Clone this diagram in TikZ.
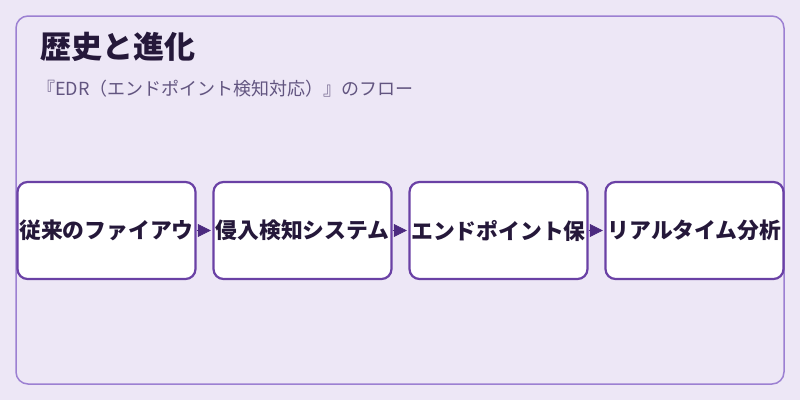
\documentclass[tikz,border=0pt]{standalone}
\usepackage{fontspec}
\setmainfont{Noto Sans CJK JP}
\usepackage{xcolor}
\usetikzlibrary{positioning,arrows.meta}

\definecolor{bgpurple}{HTML}{EDE7F6}
\definecolor{framepurple}{HTML}{9C80D2}
\definecolor{boxpurple}{HTML}{6A41A5}
\definecolor{arrowpurple}{HTML}{4C2A80}
\definecolor{titleink}{HTML}{25183A}
\definecolor{subink}{HTML}{625580}

\tikzset{
    stage/.style={draw=boxpurple, line width=2.2pt, fill=white, rounded corners=10pt,
        minimum width=178pt, minimum height=97pt, inner sep=0pt,
        font=\bfseries\fontsize{21.8}{21.8}\selectfont, text=titleink},
    flow/.style={-{Triangle[length=13pt,width=13pt]}, draw=arrowpurple, fill=arrowpurple,
        line width=0.6pt, shorten >=1.6pt}
}

\begin{document}
\begin{tikzpicture}[x=1pt, y=-1pt]
    \fill[bgpurple] (0,0) rectangle (800,400);
    \useasboundingbox (0,0) rectangle (800,400);
    \draw[framepurple, line width=1.5pt, rounded corners=12pt] (16,16) rectangle (784,384);

    \node[anchor=base west, inner sep=0pt, font=\bfseries\fontsize{31}{31}\selectfont, text=titleink] (title) at (40,58) {歴史と進化};
    \node[anchor=base west, inner sep=0pt, font=\fontsize{18}{18}\selectfont, text=subink] (subtitle) at (37,95) {『EDR（エンドポイント検知対応）』のフロー};

    % four stages, left to right
    \node[stage] (s1) at (106.5,230.5) {従来のファイアウ};
    \node[stage, right=15.8pt of s1] (s2) {侵入検知システム};
    \node[stage, right=15.8pt of s2] (s3) {エンドポイント保};
    \node[stage, right=15.8pt of s3] (s4) {リアルタイム分析};

    \draw[flow] (s1) -- (s2);
    \draw[flow] (s2) -- (s3);
    \draw[flow] (s3) -- (s4);
\end{tikzpicture}
\end{document}
